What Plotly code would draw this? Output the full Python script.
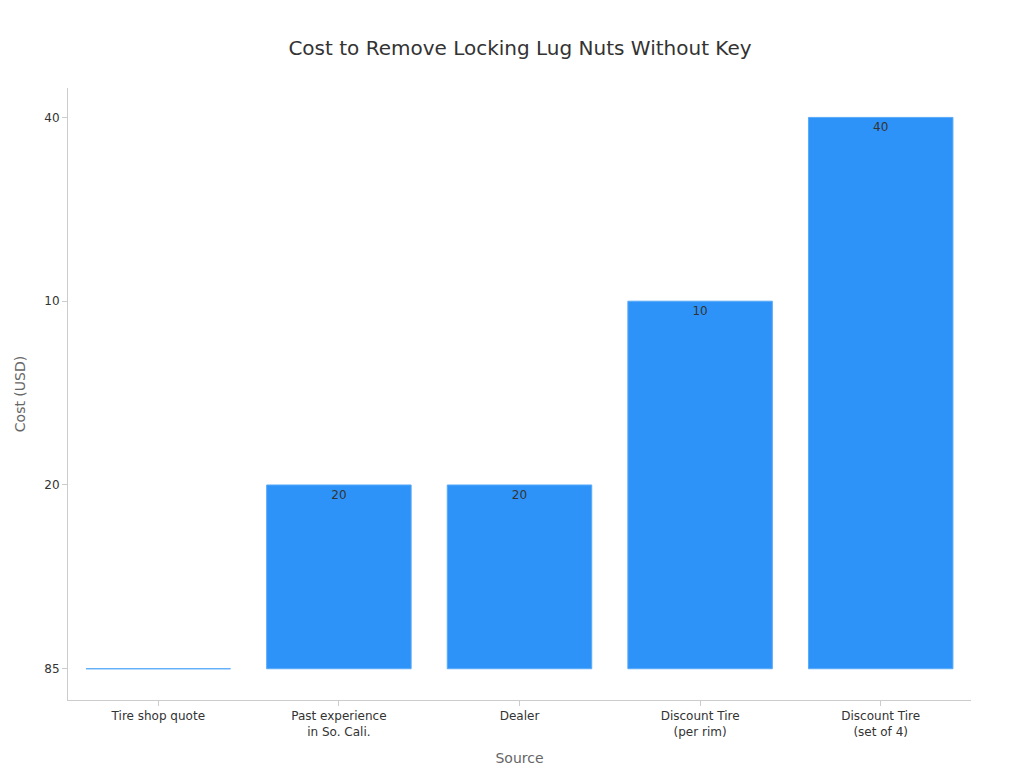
import plotly.graph_objects as go

sources = ["Tire shop quote", "Past experience<br>in So. Cali.", "Dealer",
           "Discount Tire<br>(per rim)", "Discount Tire<br>(set of 4)"]
costs = ["85", "20", "20", "10", "40"]
cost_order = ["85", "20", "10", "40"]

fig = go.Figure()
fig.add_trace(go.Bar(
    x=sources, y=costs,
    text=costs, textposition="inside", insidetextanchor="end",
    textfont=dict(color="#333333", size=12),
    marker=dict(color="#2E93F8", line=dict(color="#5AAAF8", width=1)),
))

fig.update_layout(
    width=1024, height=768,
    font=dict(family="DejaVu Sans", color="#333333"),
    title=dict(text="Cost to Remove Locking Lug Nuts Without Key", x=0.5, y=0.957,
               font=dict(size=20, color="#333333")),
    plot_bgcolor="white", paper_bgcolor="white",
    margin=dict(l=60, r=61, t=80, b=76),
    bargap=0.2, showlegend=False,
)
fig.update_xaxes(title=dict(text="Source", font=dict(size=14, color="#666666")),
                 showline=True, linecolor="#cccccc", ticks="outside",
                 tickcolor="#cccccc", tickfont=dict(size=12))
fig.update_yaxes(title=dict(text="Cost (USD)", font=dict(size=14, color="#666666")),
                 type="category", categoryorder="array", categoryarray=cost_order,
                 range=[-0.17, 3.16], showline=True, linecolor="#cccccc",
                 ticks="outside", tickcolor="#cccccc", showgrid=False,
                 tickfont=dict(size=12))

fig.write_html("out.html")
